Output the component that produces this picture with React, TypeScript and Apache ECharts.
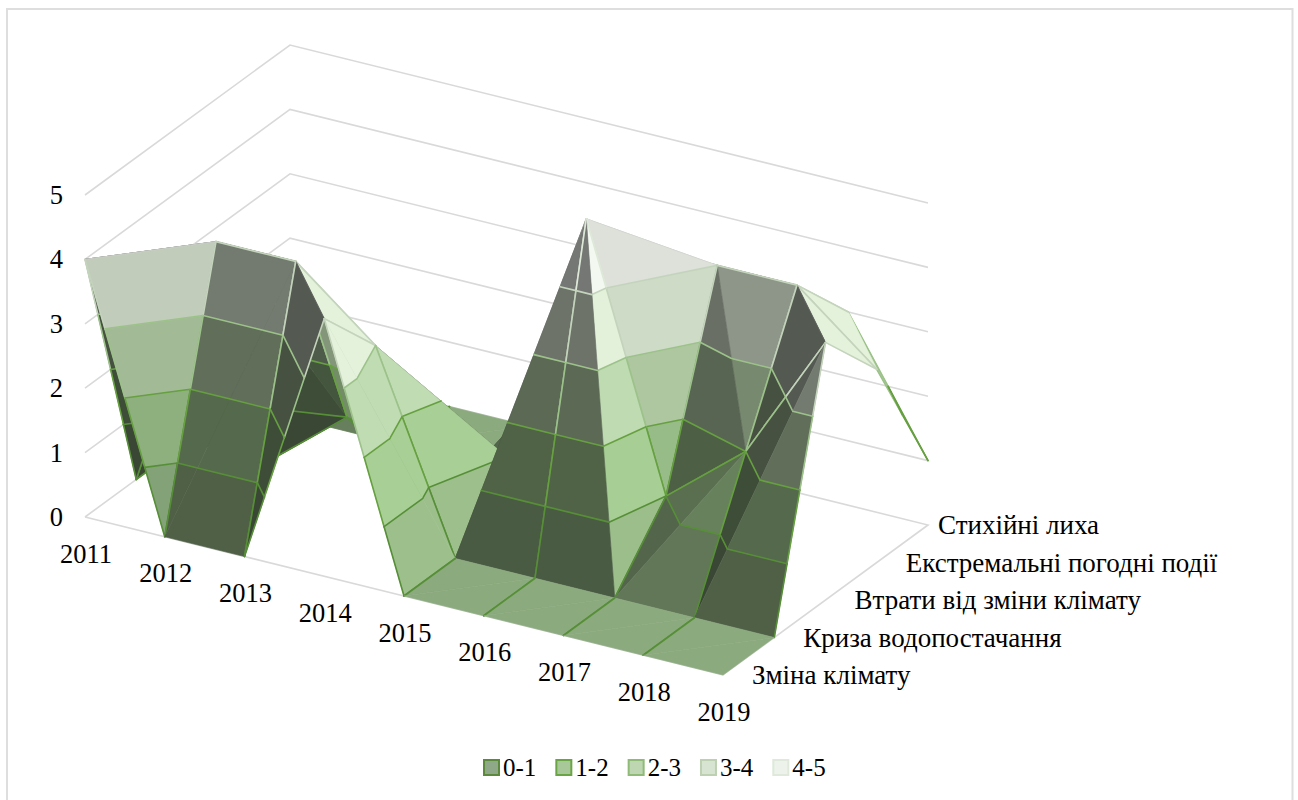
import React, { useEffect, useRef } from "react";
import * as echarts from "echarts";

const years = ["2011", "2012", "2013", "2014", "2015", "2016", "2017", "2018", "2019"];
const risks = ["Зміна клімату", "Криза водопостачання", "Втрати від зміни клімату", "Екстремальні погодні події", "Стихійні лиха"];
const zTicks = [0, 1, 2, 3, 4, 5];
const bandNames = ["0-1", "1-2", "2-3", "3-4", "4-5"];

const climateChange = [4, 0, 0, 4, 0, 0, 0, 0, 0];
const waterCrisis = [0, 4, 4, 3, 0, 0, 0, 0, 0];
const climateLosses = [0, 0, 1, 0, 1, 5, 1, 2, 4];
const extremeWeather = [0, 0, 0, 0, 1, 4, 4, 4, 3];
const naturalDisasters = [0, 0, 0, 0, 2, 3, 3, 3, 1];
const rows = [climateChange, waterCrisis, climateLosses, extremeWeather, naturalDisasters];

// styling
const bandBase = ["#9cbf8c", "#a8d096", "#c0dcb2", "#e4f2dc", "#f4f9f1"];
const bandEdge = ["#578f38", "#66a040", "#9cc28a", "#c4d4bc", "#dde8d8"];
const legendFill = ["#8fa888", "#a8c89a", "#bfd6b2", "#d8e4d2", "#edf3ea"];
const legendEdge = ["#5b8a3c", "#6aa545", "#8fba78", "#bdd0b2", "#dfe8da"];
const GRID = "#d9d9d9";
const SERIF = "Liberation Serif";

// oblique projection layout
const LEFT = 85, TOP = 195, WIDTH = 638, HEIGHT = 322;
const STEP_I_Y = 158 / 8; // floor falls towards the right
const DEPTH_X = 205 / 4, DEPTH_Y = -150 / 4;

type V = { i: number; j: number; z: number };
type Tri = { a: V; b: V; c: V; shade: number }; // a-c is the hidden diagonal

function farness(v: V) {
  return -0.6426 * v.i + v.j;
}
function shadeOf(a: V, b: V, c: V) {
  const ux = b.i - a.i, uy = b.j - a.j, uz = b.z - a.z;
  const vx = c.i - a.i, vy = c.j - a.j, vz = c.z - a.z;
  let nx = uy * vz - uz * vy, ny = uz * vx - ux * vz, nz = ux * vy - uy * vx;
  if (nz < 0) { nx = -nx; ny = -ny; nz = -nz; }
  const l = Math.hypot(nx, ny, nz);
  nx /= l; ny /= l; nz /= l;
  let s = 0.29 + (nx > 0 ? 0.58 : 0.25) * nx - 0.07 * ny + 0.6 * nz;
  if (nx > 0 && ny > 0) s += 0.1;
  return Math.max(0.37, Math.min(1, s));
}

function buildTriangles(): Tri[] {
  const out: Tri[] = [];
  const P = (i: number, j: number): V => ({ i, j, z: rows[j][i] });
  for (let j = rows.length - 2; j >= 0; j--) {
    for (let i = 0; i < years.length - 1; i++) {
      const p00 = P(i, j), p10 = P(i + 1, j), p11 = P(i + 1, j + 1), p01 = P(i, j + 1);
      const tris: [V, V, V][] =
        p00.z + p11.z >= p10.z + p01.z
          ? [[p00, p10, p11], [p00, p01, p11]]
          : [[p10, p00, p01], [p10, p11, p01]];
      const cen = (t: [V, V, V]) => farness(t[0]) + farness(t[1]) + farness(t[2]);
      tris.sort((x, y) => cen(y) - cen(x));
      tris.forEach(([a, b, c]) => out.push({ a, b, c, shade: shadeOf(a, b, c) }));
    }
  }
  return out;
}
const triangles = buildTriangles();

function lerp(p: V, q: V, z: number): V {
  const t = (z - p.z) / (q.z - p.z);
  return { i: p.i + (q.i - p.i) * t, j: p.j + (q.j - p.j) * t, z };
}
function clip(poly: V[], lev: number, keepAbove: boolean): V[] {
  const res: V[] = [];
  const inside = (v: V) => (keepAbove ? v.z >= lev : v.z <= lev);
  poly.forEach((cur, k) => {
    const nxt = poly[(k + 1) % poly.length];
    if (inside(cur)) res.push(cur);
    if (inside(cur) !== inside(nxt)) res.push(lerp(cur, nxt, lev));
  });
  return res;
}
function tint(hex: string, s: number) {
  const n = parseInt(hex.slice(1), 16);
  const c = (v: number) => Math.round(v * s);
  return `rgb(${c((n >> 16) & 255)},${c((n >> 8) & 255)},${c(n & 255)})`;
}

function project(api: any, v: V): number[] {
  const p = api.coord([v.i, v.z]);
  return [p[0] + v.j * DEPTH_X, p[1] + v.i * STEP_I_Y + v.j * DEPTH_Y];
}
function seg(p: number[], q: number[], stroke: string) {
  return {
    type: "line",
    shape: { x1: p[0], y1: p[1], x2: q[0], y2: q[1] },
    style: { stroke, lineWidth: 1.6, lineCap: "round" },
  };
}

function renderTriangle(params: any, api: any) {
  const t: Tri = triangles[params.dataIndex];
  const children: any[] = [];
  // fills
  bandNames.forEach((_, b) => {
    const poly = clip(clip([t.a, t.b, t.c], b, true), b + 1, false);
    if (poly.length < 3) return;
    const fill = tint(bandBase[b], t.shade);
    children.push({
      type: "polygon",
      shape: { points: poly.map((v) => project(api, v)) },
      style: { fill, stroke: fill, lineWidth: 0.6 },
    });
  });
  // grid edges, coloured band by band
  [[t.a, t.b], [t.b, t.c]].forEach(([p, q]) => {
    bandNames.forEach((_, b) => {
      if (p.z === q.z) {
        // flat floor runs along the years, and the last year's floor, carry no line
        if (p.z === 0 && (p.j === q.j || p.i === years.length - 1)) return;
        const inBand = p.z === 0 ? b === 0 : p.z - 1 === b;
        if (inBand) children.push(seg(project(api, p), project(api, q), bandEdge[b]));
        return;
      }
      const lo = p.z < q.z ? p : q, hi = p.z < q.z ? q : p;
      const from = Math.max(b, lo.z), to = Math.min(b + 1, hi.z);
      if (to <= from) return;
      children.push(seg(project(api, lerp(lo, hi, from)), project(api, lerp(lo, hi, to)), bandEdge[b]));
    });
  });
  // contour lines between bands
  for (let lev = 1; lev < bandNames.length; lev++) {
    const pts: V[] = [];
    let corners = 0;
    [[t.a, t.b], [t.b, t.c], [t.c, t.a]].forEach(([p, q]) => {
      if (p.z === q.z) return;
      if ((p.z - lev) * (q.z - lev) > 0) return;
      const v = lerp(p, q, lev);
      if (!pts.some((w) => Math.abs(w.i - v.i) + Math.abs(w.j - v.j) < 1e-6)) {
        pts.push(v);
        if (p.z === lev || q.z === lev) corners++;
      }
    });
    if (pts.length === 2 && corners < 2) {
      children.push(seg(project(api, pts[0]), project(api, pts[1]), bandEdge[lev - 1]));
    }
  }
  return { type: "group", children };
}

function renderWalls(params: any, api: any) {
  const z = zTicks[params.dataIndex];
  const last = years.length - 1, back = risks.length - 1;
  const pts: number[][] = [
    project(api, { i: 0, j: 0, z }),
    project(api, { i: 0, j: back, z }),
    project(api, { i: last, j: back, z }),
  ];
  if (z === 0) {
    pts.push(project(api, { i: last, j: 0, z }));
    pts.push(project(api, { i: 0, j: 0, z }));
  }
  return {
    type: "polyline",
    shape: { points: pts },
    style: { stroke: GRID, lineWidth: 1.6, fill: "none" },
  };
}

function label(text: string, x: number, y: number, align: string, size: number) {
  return {
    type: "text",
    x,
    y,
    style: {
      text,
      font: `${size}px "${SERIF}"`,
      fill: "#000000",
      textAlign: align,
      textVerticalAlign: "middle",
      align,
      verticalAlign: "middle",
    },
  };
}

function renderYearLabel(params: any, api: any) {
  const p = project(api, { i: params.dataIndex, j: 0, z: 0 });
  return label(years[params.dataIndex], p[0] + 1, p[1] + 36.5, "center", 26.5);
}
function renderRiskLabel(params: any, api: any) {
  const j = params.dataIndex;
  const p = project(api, { i: years.length - 1, j, z: 0 });
  return label(risks[j], p[0] + (j === risks.length - 1 ? 10 : 29), p[1], "left", 27);
}

export default function App() {
  const ref = useRef<HTMLDivElement>(null);
  useEffect(() => {
    const chart = echarts.init(ref.current!, undefined, { renderer: "svg" });
    const custom = (renderItem: any, count: number, z: number) => ({
      type: "custom",
      renderItem,
      data: Array.from({ length: count }, (_, k) => [k]),
      encode: { x: 0, y: -1 },
      clip: false,
      silent: true,
      z,
    });
    chart.setOption({
      animation: false,
      backgroundColor: "#ffffff",
      graphic: [
        {
          type: "rect",
          shape: { x: 7, y: 9, width: 1285.5, height: 900 },
          style: { fill: "transparent", stroke: "#dedede", lineWidth: 2 },
          silent: true,
          z: -10,
        },
      ],
      grid: { left: LEFT, top: TOP, width: WIDTH, height: HEIGHT, containLabel: false },
      xAxis: { type: "value", min: 0, max: years.length - 1, show: false },
      yAxis: {
        type: "value",
        min: 0,
        max: 5,
        interval: 1,
        axisLine: { show: false },
        axisTick: { show: false },
        splitLine: { show: false },
        axisLabel: { margin: 22, color: "#000000", fontFamily: SERIF, fontSize: 26.5 },
      },
      legend: {
        left: 478,
        top: 750,
        icon: "rect",
        itemWidth: 15,
        itemHeight: 15,
        itemGap: 19,
        selectedMode: false,
        textStyle: { color: "#000000", fontFamily: SERIF, fontSize: 25, padding: [0, 0, 0, -1] },
        data: bandNames.map((name, b) => ({
          name,
          itemStyle: { color: legendFill[b], borderColor: legendEdge[b], borderWidth: 2 },
        })),
      },
      series: [
        custom(renderWalls, zTicks.length, 1),
        custom(renderTriangle, triangles.length, 2),
        custom(renderYearLabel, years.length, 3),
        custom(renderRiskLabel, risks.length, 3),
        ...bandNames.map((name, b) => ({
          type: "custom",
          name,
          data: [],
          renderItem: () => null,
          itemStyle: { color: legendFill[b] },
        })),
      ],
    });
    return () => chart.dispose();
  }, []);
  return <div ref={ref} style={{ position: "absolute", left: 0, top: 0, width: 1298, height: 800 }} />;
}
